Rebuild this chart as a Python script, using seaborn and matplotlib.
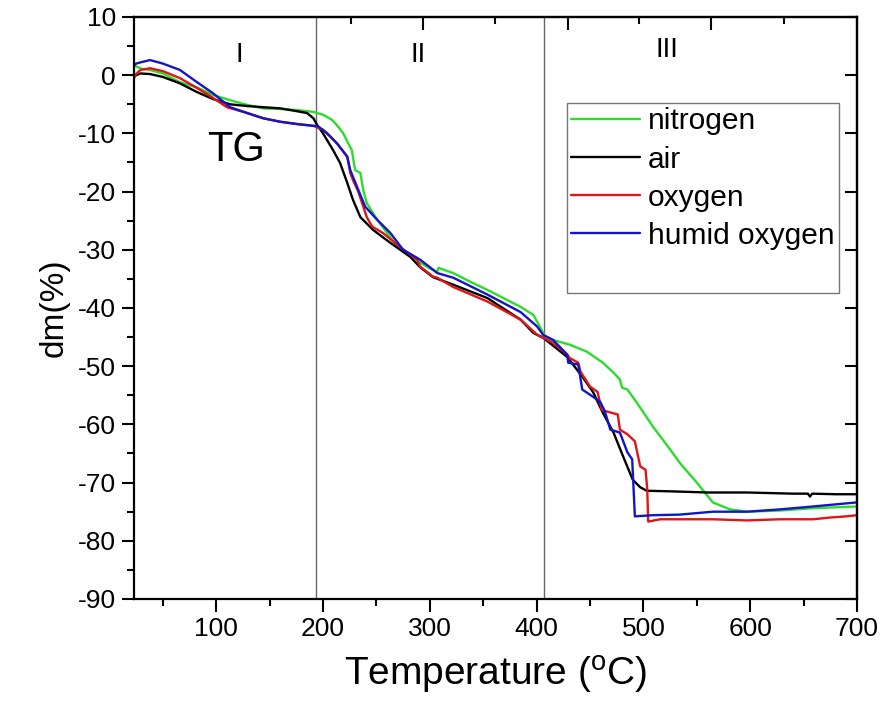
import matplotlib
matplotlib.use("Agg")
import matplotlib.pyplot as plt
from matplotlib.ticker import MultipleLocator, NullFormatter
from matplotlib.lines import Line2D
from matplotlib.patches import Rectangle
import numpy as np
import pandas as pd
import seaborn as sns

# TG curves: temperature (°C) vs mass change dm (%)
temp_nitrogen = [23, 25, 30, 38, 50, 66, 82, 97, 113, 129, 144, 160, 176, 191, 200, 204,
                 208.6, 214, 219, 223, 227, 230, 235, 237.6, 241, 251, 260, 269.5, 280, 288,
                 291, 300, 307, 308, 322, 338, 354, 369, 385, 397, 403, 408, 415.5, 431, 447,
                 462, 472, 478, 480, 485, 494, 509, 525, 534, 550, 565, 581, 597, 628, 659, 700]
dm_nitrogen = [2.0, 1.5, 1.1, 0.9, 0.3, -1.2, -2.1, -3.4, -4.3, -5.1, -5.7, -5.8, -6.0, -6.3,
               -6.8, -7.2, -7.7, -8.8, -10.0, -11.5, -12.9, -16.3, -16.8, -19.7, -22.0, -24.9,
               -27.1, -29.5, -30.7, -31.7, -32.2, -33.2, -33.8, -33.1, -34.0, -35.5, -36.9,
               -38.3, -39.8, -41.2, -43.2, -44.9, -45.5, -46.3, -47.5, -49.4, -51.1, -52.3,
               -53.7, -54.0, -56.3, -60.4, -64.3, -66.6, -70.0, -73.4, -74.6, -75.0, -74.8,
               -74.4, -74.1]

temp_air = [23, 25, 29, 38, 50, 66, 82, 97, 113, 129, 144, 160, 176, 185, 191, 194.6, 200,
            209.5, 216, 222.7, 228, 235, 247, 263, 281.6, 291, 303, 322, 354, 385, 397, 406,
            428.6, 443.6, 453, 462, 472, 481, 490, 497, 503, 525, 560, 597, 640, 654, 656,
            658, 680, 700]
dm_air = [-0.3, 0.0, 0.3, 0.2, -0.3, -1.4, -2.9, -4.1, -5.0, -5.3, -5.5, -5.7, -6.2, -6.5,
          -7.4, -8.6, -10.0, -12.9, -15.1, -18.5, -21.4, -24.4, -26.6, -28.8, -31.2, -33.0,
          -34.7, -36.0, -38.3, -42.0, -44.3, -45.1, -48.4, -52.0, -54.5, -58.0, -61.4, -65.5,
          -69.5, -70.8, -71.4, -71.5, -71.7, -71.7, -71.9, -71.9, -72.4, -71.9, -72.0, -72.0]

temp_oxygen = [23, 25, 29, 38, 50, 66, 82, 97, 110, 129, 144, 160, 176, 191, 200, 207, 213,
               222.7, 225.5, 228, 233, 241, 246, 256, 272, 288, 291, 303, 307, 322, 354, 385,
               400.6, 406, 415.5, 428.6, 431, 439, 441, 450, 457, 461, 466, 476, 478, 485,
               492, 497, 502, 503.6, 504.5, 515.7, 534, 565, 597, 628, 659, 675, 690, 700]
dm_oxygen = [-0.5, 0.2, 0.9, 1.2, 0.7, -0.5, -2.2, -3.9, -5.5, -6.5, -7.4, -8.0, -8.4, -8.7,
             -9.4, -10.6, -11.7, -14.0, -16.8, -18.0, -20.0, -24.4, -26.0, -27.1, -29.5,
             -31.7, -32.9, -34.6, -34.8, -36.4, -38.9, -42.0, -44.6, -45.1, -46.0, -48.0,
             -48.6, -49.4, -50.9, -53.5, -54.4, -57.5, -57.8, -58.3, -60.9, -61.7, -62.9,
             -67.2, -67.8, -71.2, -76.7, -76.3, -76.3, -76.3, -76.5, -76.3, -76.3, -76.0,
             -75.8, -75.6]

temp_humid = [23, 25, 29, 38, 50, 66, 82, 97, 113, 129, 144, 160, 176, 191, 194.6, 200, 204,
              213, 222.7, 225.5, 233, 239.5, 251, 263, 275, 291, 307, 322, 354, 385, 400.6,
              406, 415.5, 428.6, 429.6, 439, 442.7, 450, 459.5, 464, 469, 478, 485, 489.5,
              492, 509, 534, 565, 597, 628, 659, 700]
dm_humid = [1.7, 2.0, 2.2, 2.6, 2.0, 0.9, -1.2, -3.1, -5.5, -6.5, -7.4, -8.0, -8.4, -8.7,
            -8.7, -9.4, -10.0, -11.7, -14.0, -16.3, -19.7, -22.6, -24.9, -27.1, -30.0, -31.7,
            -34.0, -34.8, -37.7, -40.7, -43.2, -44.6, -45.5, -48.0, -49.4, -49.7, -54.0,
            -54.9, -56.1, -57.8, -60.9, -61.4, -64.8, -66.0, -75.8, -75.6, -75.5, -75.0,
            -75.0, -74.6, -74.1, -73.4]

series_names = ["nitrogen", "air", "oxygen", "humid oxygen"]
series_colors = ["#2bdc2b", "#000000", "#e01515", "#1414c8"]

# stage boundaries and labels
stage_bounds = [193.5, 407]
stage_labels = ["I", "II", "III"]
stage_label_x = [122, 289, 522]
stage_label_y = [3.4, 3.4, 4.4]

# extra ticks on the top frame
top_major_ticks = [294, 429, 563.5]
top_minor_ticks = [226, 361, 496, 632]

frames = []
for name, t, d in zip(series_names,
                      [temp_nitrogen, temp_air, temp_oxygen, temp_humid],
                      [dm_nitrogen, dm_air, dm_oxygen, dm_humid]):
    frames.append(pd.DataFrame({"Temperature": t, "dm": d, "gas": name}))
df = pd.concat(frames, ignore_index=True)

sns.set_theme(style="white")
plt.rcParams["font.family"] = ["Liberation Sans", "DejaVu Sans"]
plt.rcParams["mathtext.fontset"] = "custom"
plt.rcParams["mathtext.rm"] = "Liberation Sans"
plt.rcParams["axes.unicode_minus"] = False
plt.rcParams["text.color"] = "black"
plt.rcParams["axes.labelcolor"] = "black"

fig = plt.figure(figsize=(8.83, 7.04), dpi=100)
fig.patch.set_facecolor("white")
ax = fig.add_axes([134 / 883, 1 - 599 / 704, (857 - 134) / 883, (599 - 17) / 704])

palette = dict(zip(series_names, series_colors))
sns.lineplot(data=df, x="Temperature", y="dm", hue="gas", hue_order=series_names,
             palette=palette, sort=False, estimator=None, linewidth=1.7,
             legend=False, ax=ax)

for xb in stage_bounds:
    ax.axvline(xb, color="#666666", linewidth=1.0, zorder=0)

ax.set_xlim(23, 700)
ax.set_ylim(-90, 10)
ax.xaxis.set_major_locator(MultipleLocator(100))
ax.xaxis.set_minor_locator(MultipleLocator(50))
ax.yaxis.set_major_locator(MultipleLocator(10))
ax.yaxis.set_minor_locator(MultipleLocator(5))
ax.tick_params(axis="both", which="major", direction="out", length=9, width=1.5,
               labelsize=19, color="black", labelcolor="black", pad=4)
ax.tick_params(axis="both", which="minor", direction="out", length=5, width=1.5,
               color="black")
ax.tick_params(top=False, right=False, bottom=True, left=True)
ax.tick_params(which="minor", bottom=True, left=True)

for sp in ax.spines.values():
    sp.set_visible(True)
    sp.set_color("black")
    sp.set_linewidth(1.6)

# right frame ticks (inward, major only)
sec_r = ax.secondary_yaxis("right")
sec_r.yaxis.set_major_locator(MultipleLocator(10))
sec_r.tick_params(direction="in", length=9, width=1.5, labelright=False, color="black")
sec_r.spines["right"].set_linewidth(1.6)

# top frame ticks (inward)
sec_t = ax.secondary_xaxis("top")
sec_t.set_xticks(top_major_ticks)
sec_t.set_xticks(top_minor_ticks, minor=True)
sec_t.xaxis.set_major_formatter(NullFormatter())
sec_t.xaxis.set_minor_formatter(NullFormatter())
sec_t.tick_params(which="major", direction="in", length=9, width=1.5, color="black")
sec_t.tick_params(which="minor", direction="in", length=5, width=1.5, color="black")
sec_t.spines["top"].set_linewidth(1.6)

ax.set_xlabel("Temperature ($^{\\rm o}$C)", fontsize=28, color="black", labelpad=9)
ax.set_ylabel("dm(%)", fontsize=24, color="black", labelpad=6)

for lab, lx, ly in zip(stage_labels, stage_label_x, stage_label_y):
    ax.text(lx, ly, lab, fontsize=20, ha="center", va="center", color="black")
ax.text(118.5, -12.9, "TG", fontsize=30, ha="center", va="center", color="black")

handles = [Line2D([], [], color=c, linewidth=1.7) for c in series_colors]
labels = list(series_names)
handles.append(Rectangle((0, 0), 1, 1, alpha=0))
labels.append(" ")
leg = ax.legend(handles, labels, loc="upper left",
                bbox_to_anchor=(567 / 883, 1 - 103 / 704), bbox_transform=fig.transFigure,
                fontsize=21.5, frameon=True, fancybox=False, borderaxespad=0,
                handlelength=2.3, handletextpad=0.27, labelspacing=0.34, borderpad=0.15,
                labelcolor="black")
leg.get_frame().set_edgecolor("#555555")
leg.get_frame().set_linewidth(1.0)

fig.savefig("out.png", dpi=100, facecolor="white")
